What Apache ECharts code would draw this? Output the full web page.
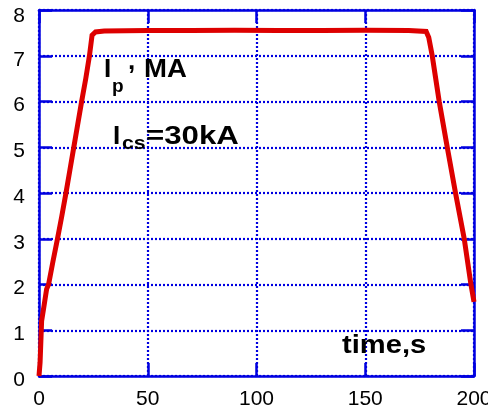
<!DOCTYPE html>
<html>
<head>
<meta charset="utf-8">
<script src="https://cdn.jsdelivr.net/npm/echarts@6/dist/echarts.min.js"></script>
<style>
  html, body { margin: 0; padding: 0; background: #fff; }
  #chart { width: 488px; height: 409px; }
</style>
</head>
<body>
<div id="chart"></div>
<script>
// Plasma current scenario: time (s) vs Ip (MA)
const timeS = [0, 0.5, 1.2, 2.2, 3.5, 4.4, 6.4, 8.5, 10.5, 12.4, 14.2, 16.0, 17.8, 19.6, 21.5, 23.2, 24.4, 26, 30,
  50, 70, 90, 110, 130, 150, 170, 178, 179.2, 180.8, 184.0, 187.7, 191.5, 195.5, 198.6, 200];
const plasmaCurrent = [0, 0.3, 1.2, 1.5, 1.9, 2.0, 2.5, 3.0, 3.5, 4.0, 4.5, 5.0, 5.5, 6.0, 6.5, 7.0, 7.45, 7.52, 7.54,
  7.55, 7.55, 7.56, 7.55, 7.55, 7.56, 7.55, 7.53, 7.4, 7.0, 6.0, 5.0, 4.0, 3.0, 2.0, 1.62];
const xTicks = [0, 50, 100, 150, 200];
const yTicks = [0, 1, 2, 3, 4, 5, 6, 7, 8];

const BLUE = '#0000e0';
const FONT = '"Liberation Sans", Arial, sans-serif';

const chart = echarts.init(document.getElementById('chart'), null, { renderer: 'canvas' });

const gridLine = { show: true, lineStyle: { color: BLUE, width: 2.2, type: [2, 2] } };
const frameLine = { show: true, onZero: false, lineStyle: { color: BLUE, width: 2.5 } };
const tickIn = { show: true, inside: true, length: 13, lineStyle: { color: BLUE, width: 2.5 } };

const xBase = {
  type: 'value', min: xTicks[0], max: xTicks[xTicks.length - 1], interval: 50,
  axisLine: frameLine, axisTick: tickIn
};
const yBase = {
  type: 'value', min: yTicks[0], max: yTicks[yTicks.length - 1], interval: 1,
  axisLine: frameLine, axisTick: tickIn
};

// bold annotation text piece
function label(text, left, top, size, scaleX) {
  return {
    type: 'text', left: left, top: top, z: 10, scaleX: scaleX || 1,
    style: { text: text, fontSize: size, fontWeight: 'bold', fontFamily: FONT, fill: '#000' }
  };
}

chart.setOption({
  animation: false,
  backgroundColor: '#fff',
  grid: { left: 39, right: 14, top: 10, bottom: 33, containLabel: false, outerBoundsMode: 'none' },
  xAxis: [
    Object.assign({}, xBase, {
      position: 'bottom',
      splitLine: gridLine,
      axisLabel: { color: '#000', fontSize: 21, fontFamily: FONT, margin: 13, hideOverlap: false }
    }),
    Object.assign({}, xBase, {
      position: 'top',
      splitLine: { show: false },
      axisLabel: { show: false }
    })
  ],
  yAxis: [
    Object.assign({}, yBase, {
      position: 'left',
      splitLine: gridLine,
      axisLabel: {
        color: '#000', fontSize: 21, fontFamily: FONT, margin: 14,
        formatter: v => (v === yTicks[yTicks.length - 1] ? '{t|' + v + '}' : '{n|' + v + '}'),
        rich: {
          t: { fontSize: 21, fontFamily: FONT, color: '#000', padding: [12, 0, 0, 0] },
          n: { fontSize: 21, fontFamily: FONT, color: '#000', padding: [8, 0, 0, 0] }
        }
      }
    }),
    Object.assign({}, yBase, {
      position: 'right',
      splitLine: { show: false },
      axisLabel: { show: false }
    })
  ],
  series: [{
    type: 'line',
    data: timeS.map((t, i) => [t, plasmaCurrent[i]]),
    showSymbol: false,
    lineStyle: { color: '#dd0000', width: 5, join: 'miter' },
    clip: false,
    z: 5
  }],
  graphic: [
    label('I', 104, 57, 26),
    label('p', 112, 77, 19),
    label(',', 128, 49, 26),
    label('MA', 144, 57, 26, 1.06),
    label('I', 113, 124, 26),
    label('cs', 122, 134, 19, 1.12),
    label('=30kA', 146, 124, 26, 1.2),
    label('time,s', 342, 333, 26, 1.12)
  ]
});
</script>
</body>
</html>
